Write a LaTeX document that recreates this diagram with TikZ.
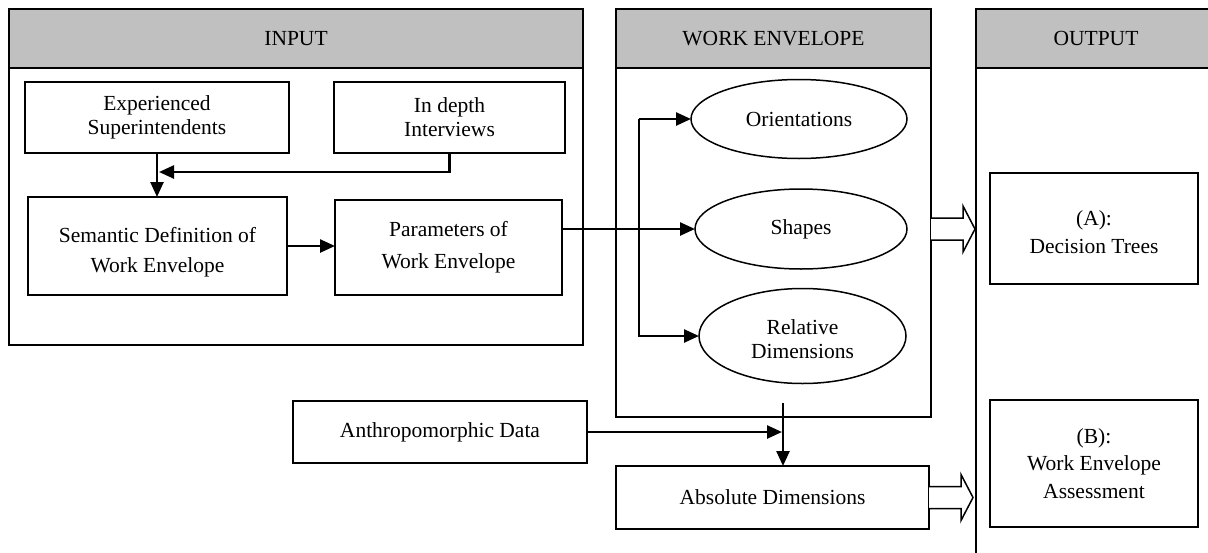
\documentclass[tikz,border=0pt]{standalone}
\usepackage{fontspec}
\setmainfont{Liberation Serif}
\usetikzlibrary{arrows.meta,calc,shapes.geometric}
\definecolor{hdr}{HTML}{C0C0C0}
\begin{document}
\begin{tikzpicture}[x=1pt,y=-1pt,
  every node/.style={font=\fontsize{21.5}{24}\selectfont, align=center, inner sep=0pt, outer sep=0pt},
  panel/.style={draw, line width=1.6pt, rectangle},
  hdrbox/.style={draw, line width=1.6pt, fill=hdr, rectangle},
  box/.style={draw, line width=1.6pt, rectangle},
  ell/.style={draw, line width=1.5pt, ellipse},
  arr/.style={line width=2.5pt, -{Triangle[length=15pt,width=13pt]}},
  hollow/.style={draw, line width=1.5pt, fill=white, line join=miter}]
\useasboundingbox (0,0) rectangle (1208,552);

% panels
\node[panel, minimum width=574pt, minimum height=336pt, anchor=north west] (inp) at (9,9) {};
\node[hdrbox, minimum width=574pt, minimum height=59pt, anchor=north west] (inph) at (9,9) {INPUT};
\node[panel, minimum width=315pt, minimum height=408pt, anchor=north west] (we) at (616,9) {};
\node[hdrbox, minimum width=315pt, minimum height=59pt, anchor=north west] (weh) at (616,9) {WORK ENVELOPE};
\node[hdrbox, minimum width=240pt, minimum height=59pt, anchor=north west, text width=232pt] (outh) at (976,9) {OUTPUT};
\coordinate (outbot) at (976,560);
\draw[line width=1.6pt] (outh.south west) -- (outbot);

% input boxes
\node[box, minimum width=264pt, minimum height=71pt] (exp) at (157,117.5) {Experienced\\Superintendents};
\node[box, minimum width=231pt, minimum height=71pt] (intv) at (449.5,117.5) {In depth\\Interviews};
\node[box, minimum width=259pt, minimum height=98pt] (sem) at (157.5,246) {\rule{0pt}{27pt}Semantic Definition of\\[6pt]Work Envelope};
\node[box, minimum width=227pt, minimum height=95pt] (par) at (448.5,247.5) {Parameters of\\[8pt]Work Envelope};

% ellipses
\node[ell, minimum width=216pt, minimum height=79pt] (orient) at (799,119) {Orientations};
\node[ell, minimum width=212pt, minimum height=80pt] (shp) at (801,229) {Shapes};
\node[ell, minimum width=207pt, minimum height=95pt] (rel) at (802.5,336) {\rule{0pt}{21pt}Relative\\Dimensions};

% lower boxes
\node[box, minimum width=294pt, minimum height=62pt] (anthro) at (440,432) {Anthropomorphic Data};
\node[box, minimum width=313pt, minimum height=63pt] (absd) at (772.5,497.5) {Absolute Dimensions};

% output boxes
\node[box, minimum width=208pt, minimum height=111pt] (dec) at (1094,228.5) {\rule{0pt}{22pt}(A):\\[4pt]Decision Trees};
\node[box, minimum width=208pt, minimum height=127pt] (asmt) at (1094,463.5) {(B):\\[3pt]Work Envelope\\[4pt]Assessment};

% connectors
\coordinate (m1) at (159,172);
\draw[arr] (exp.south) -- (exp.south |- sem.north);
\draw[arr] (intv.south) |- (m1);
\draw[arr] (sem.east) -- (sem.east -| par.west);
\draw[arr] (par.east |- shp.west) -- (shp.west);
\coordinate (jt) at (639,119);
\coordinate (jb) at (639,336);
\draw[arr] (jt) -- (orient.west);
\draw[arr] (jt) -- (jb) -- (rel.west);
\coordinate (ta) at (782,432);
\draw[arr] (anthro.east) -- (ta);
\coordinate (vs) at (783,403);
\draw[arr] (vs) -- (vs |- absd.north);

% hollow arrows
\coordinate (h1) at (we.east |- shp.center);
\draw[hollow] ($(h1)+(0,-11)$) -- ++(32,0) -- ++(0,-12) -- ++(12,23) -- ++(-12,23) -- ++(0,-12) -- ++(-32,0);
\coordinate (h2) at (absd.east);
\draw[hollow] ($(h2)+(0,-11)$) -- ++(32,0) -- ++(0,-12) -- ++(12,23) -- ++(-12,23) -- ++(0,-12) -- ++(-32,0);
\end{tikzpicture}
\end{document}
